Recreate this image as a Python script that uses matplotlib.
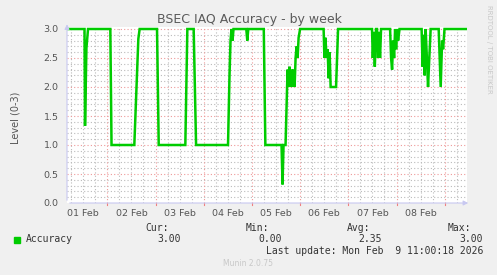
import numpy as np
import matplotlib
matplotlib.use("Agg")
from matplotlib import pyplot as plt

# hours since 01 Feb 00:00 and accuracy level
hours = [3.9, 12.65, 12.9, 13.6, 14.4, 25.5, 26.1, 37.45, 39.45, 40.1,
         48.75, 49.6, 62.85, 63.85, 67.0, 68.2, 84.1, 84.85, 85.35, 85.85,
         86.35, 86.85, 93.2, 93.7, 94.2, 101.9, 102.7, 110.75, 111.25, 111.75,
         112.75, 113.75, 114.25, 114.75, 115.25, 115.75, 116.25, 116.75, 117.25, 117.75,
         118.25, 118.75, 119.25, 120.0, 131.7, 132.1, 132.6, 133.2, 133.7, 134.2,
         134.7, 135.2, 137.9, 138.9, 155.8, 156.2, 156.7, 157.2, 157.8, 158.3,
         158.8, 159.3, 159.8, 160.3, 164.8, 165.3, 165.8, 166.3, 166.8, 167.3,
         167.8, 168.3, 168.8, 169.5, 180.5, 181.0, 181.5, 182.0, 182.5, 183.0,
         183.7, 184.2, 185.0, 189.0, 190.0, 190.7, 191.2, 191.9, 202.6]
accuracy = [3.0, 3.0, 1.33, 2.67, 3.0, 3.0, 1.0, 1.0, 2.83, 3.0,
            3.0, 1.0, 1.0, 3.0, 3.0, 1.0, 1.0, 2.2, 2.8, 3.0,
            2.8, 3.0, 3.0, 2.8, 3.0, 3.0, 1.0, 1.0, 0.32, 1.0,
            1.0, 2.3, 2.0, 2.35, 2.0, 2.3, 2.0, 2.3, 2.0, 2.5,
            2.7, 2.5, 2.85, 3.0, 3.0, 2.5, 2.85, 2.5, 2.65, 2.15,
            2.6, 2.0, 2.0, 3.0, 3.0, 2.5, 2.95, 2.35, 3.0, 3.0,
            2.5, 2.95, 2.5, 3.0, 3.0, 2.5, 2.3, 2.8, 2.5, 3.0,
            2.65, 3.0, 2.8, 3.0, 3.0, 2.35, 2.9, 2.2, 3.0, 2.6,
            2.0, 2.4, 3.0, 3.0, 2.0, 2.8, 2.65, 3.0, 3.0]

day_labels = ["01 Feb", "02 Feb", "03 Feb", "04 Feb", "05 Feb", "06 Feb", "07 Feb", "08 Feb"]
y_ticks = [0.0, 0.5, 1.0, 1.5, 2.0, 2.5, 3.0]
legend_stats = {"Cur:": "3.00", "Min:": "0.00", "Avg:": "2.35", "Max:": "3.00"}

W, H = 497, 275
fig = plt.figure(figsize=(W / 100, H / 100), dpi=100, facecolor="#F0F0F0")

# plot area in pixels: x 67..467, y 27..203
ax = fig.add_axes([67 / W, (H - 203) / H, 400 / W, 176 / H])
ax.set_facecolor("white")
xmin, xmax = 3.93, 203.1
ax.set_xlim(xmin, xmax)
ax.set_ylim(0, 3.0 + 2 / 58)
for s in ax.spines.values():
    s.set_visible(False)
ax.tick_params(length=0)

grey = "#555555"
minor_c = "#BBBBBB"
major_c = "#EE9999"

# minor grid
for t in np.arange(6, xmax, 6):
    if t % 24:
        ax.axvline(t, color=minor_c, lw=0.8, ls=(0, (1, 2)), zorder=1)
for v in np.arange(0.1, 3.01, 0.1):
    if round(v * 10) % 5:
        ax.axhline(v, color=minor_c, lw=0.8, ls=(0, (1, 2)), zorder=1)
# major grid
for t in np.arange(24, xmax, 24):
    ax.axvline(t, color=major_c, lw=0.8, ls=(0, (1, 2)), zorder=1)
    ax.plot([t, t], [0, -0.04], color="#F08080", lw=0.8, clip_on=False)
for v in y_ticks[1:]:
    ax.axhline(v, color=major_c, lw=0.8, ls=(0, (1, 2)), zorder=1)

ax.set_yticks(y_ticks)
ax.set_yticklabels(["%.1f" % v for v in y_ticks], fontsize=6.8, color=grey)
ax.set_xticks([12 + 24 * i for i in range(len(day_labels))])
ax.set_xticklabels(day_labels, fontsize=6.8, color=grey)
ax.tick_params(axis="y", pad=6)
ax.tick_params(axis="x", pad=4)

ax.plot(hours, accuracy, color="#00CC00", lw=1.8, zorder=3, solid_joinstyle="miter")

# axes with arrows
axis_c = "#C8C8F0"
ax.annotate("", xy=(xmax + 2.0, 0), xytext=(xmin, 0), xycoords="data",
            arrowprops=dict(arrowstyle="-|>", color=axis_c, lw=0.8, mutation_scale=7),
            annotation_clip=False, zorder=4)
ax.annotate("", xy=(xmin, 3.13), xytext=(xmin, 0), xycoords="data",
            arrowprops=dict(arrowstyle="-|>", color=axis_c, lw=0.8, mutation_scale=7),
            annotation_clip=False, zorder=4)

fig.text(249 / W, 1 - 20 / H, "BSEC IAQ Accuracy - by week", ha="center", va="center",
         fontsize=9, color="#5A5A5A")
fig.text(15 / W, 1 - 118 / H, "Level (0-3)", rotation=90, ha="center", va="center",
         fontsize=7, color=grey)
fig.text(489 / W, 1 - 5 / H, "RRDTOOL / TOBI OETIKER", rotation=270, ha="center", va="top",
         fontsize=5, color="#C8C8C8")

mono = "DejaVu Sans Mono"
fig.patches.append(plt.Rectangle((14 / W, 1 - 242.5 / H), 6 / W, 6 / H,
                                 transform=fig.transFigure, color="#00CC00"))
fig.text(26 / W, 1 - 239.5 / H, "Accuracy", fontsize=7, family=mono, color="#333333", va="center")
right_edges = [180.5, 281.5, 382, 483]
for (head, val), xr in zip(legend_stats.items(), right_edges):
    fig.text((xr - 12) / W, 1 - 228 / H, head, fontsize=7, family=mono, color="#333333",
             ha="right", va="center")
    fig.text(xr / W, 1 - 239.5 / H, val, fontsize=7, family=mono, color="#333333",
             ha="right", va="center")
fig.text(483 / W, 1 - 251.5 / H, "Last update: Mon Feb  9 11:00:18 2026", fontsize=7,
         family=mono, color="#333333", ha="right", va="center")
fig.text(248 / W, 1 - 264 / H, "Munin 2.0.75", fontsize=5.5, color="#C8C8C8",
         ha="center", va="center")

plt.savefig("out.png", dpi=100, facecolor=fig.get_facecolor())
